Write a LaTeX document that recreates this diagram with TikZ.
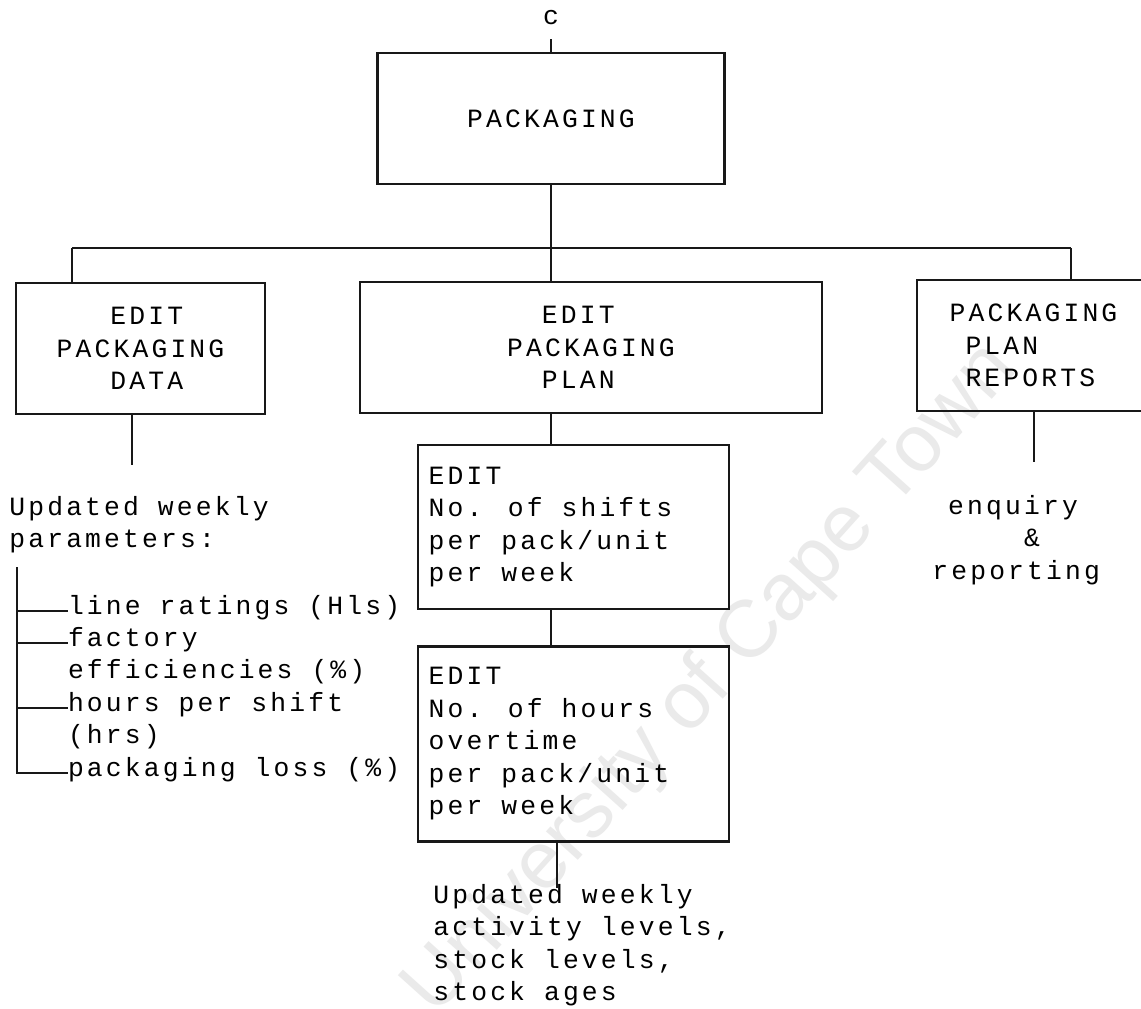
\documentclass[tikz,border=0pt]{standalone}
\usepackage{fontspec}
\setmainfont{Liberation Sans}
\newfontfamily\plotterfont[LetterSpace=12]{Liberation Mono}
\newcommand{\plotter}{\plotterfont\fontsize{15}{18.5}\selectfont}
\usetikzlibrary{positioning, calc}
\definecolor{inkblack}{RGB}{24,24,24}
\definecolor{stampgray}{RGB}{234,234,234}
\tikzset{
  %% ---- boxes ----
  chart/.style   = {rectangle, draw=inkblack, line width=1.3pt,
                    align=left, inner sep=0pt, minimum height=2.62cm,
                    font=\plotter},
  editbox/.style = {rectangle, draw=inkblack, line width=1.3pt,
                    align=left, minimum width=6.22cm, inner sep=0pt,
                    font=\plotter},
  note/.style    = {align=left, inner sep=0pt, anchor=west, font=\plotter},
  row/.style     = {inner sep=0pt, outer sep=0pt, anchor=north west,
                    text height=0.39cm, text depth=0.26cm, font=\plotter},
  stamp/.style   = {text=stampgray, font=\fontsize{46}{46}\selectfont},
  %% ---- lines ----
  link/.style    = {line width=1pt, color=inkblack},
}

\begin{document}
\begin{tikzpicture}[x=0.02cm, y=-0.02cm]
\path[use as bounding box, fill=white] (0,0) rectangle (1141,1008);
\clip (0,0) rectangle (1141,1008);
\node[stamp, rotate=48] (watermark) at (712,680) {University of Cape Town};

\node[note, anchor=center] (cref) at (551,18) {c};
\coordinate (cfoot) at (551,39);
\node[chart, minimum width=6.94cm, align=center] (pkg) at (551,118.5) {PACKAGING};

\coordinate (split) at (551,248);
\coordinate (busL)  at (72,248);
\coordinate (busR)  at (1071,248);

\node[chart, minimum width=4.98cm] (data)    at (140.5,348.5)
  {\phantom{PAC}EDIT\\PACKAGING\\\phantom{PAC}DATA};
\node[chart, minimum width=9.24cm] (plan)    at (591,347.5)
  {\phantom{PA}EDIT\\PACKAGING\\\phantom{PA}PLAN};
\node[chart, minimum width=4.66cm] (reports) at (1033.5,345.5)
  {PACKAGING\\\phantom{P}PLAN\\\phantom{P}REPORTS};

% padding keeps the text block flush with the left edge
\node[editbox, minimum height=3.28cm, below=0.6cm of plan, xshift=-0.35cm] (shifts)
  {EDIT\\No. of shifts\\per pack/unit\rule{28pt}{0pt}\\per week};
\node[editbox, minimum height=3.9cm, below=0.7cm of shifts] (hours)
  {EDIT\\No. of hours\\overtime\\per pack/unit\rule{28pt}{0pt}\\per week};

\coordinate (dataout) at (132,465);
\coordinate (planout) at (557,888);
\coordinate (repout)  at (1034,462);
\coordinate (treetop) at (17,567);

\node[note] (params) at (9,524.5) {Updated weekly\\parameters:};
\node[row] (r1) at (68,594.5)     {line ratings (Hls)};
\node[row] (r2) at (r1.south west) {factory};
\node[row] (r3) at (r2.south west) {efficiencies (\%)};
\node[row] (r4) at (r3.south west) {hours per shift};
\node[row] (r5) at (r4.south west) {(hrs)};
\node[row] (r6) at (r5.south west) {packaging loss (\%)};

\node[note] (levels) at (433,945)
  {Updated weekly\\activity levels,\\stock levels,\\stock ages};
\node[note] (enquiry) at (932,540)
  {\phantom{x}enquiry\\\phantom{xxxxx}\&\\reporting};

\draw[link] (cfoot) -- (pkg.north);
\draw[link] (pkg.south) -- (split);
\draw[link] (busL) -- (busR);
\draw[link] (busL)  -- (busL |- data.north);
\draw[link] (split) -- (split |- plan.north);
\draw[link] (busR)  -- (busR |- reports.north);
\draw[link] (data.south -| dataout) -- (dataout);
\draw[link] (plan.south -| split) -- (shifts.north -| split);
\draw[link] (shifts.south -| split) -- (hours.north -| split);
\draw[link] (hours.south -| planout) -- (planout);
\draw[link] (reports.south -| repout) -- (repout);
\foreach \r in {r1,r2,r4,r6}
  \draw[link] (treetop) |- (\r.west);
\end{tikzpicture}
\end{document}
